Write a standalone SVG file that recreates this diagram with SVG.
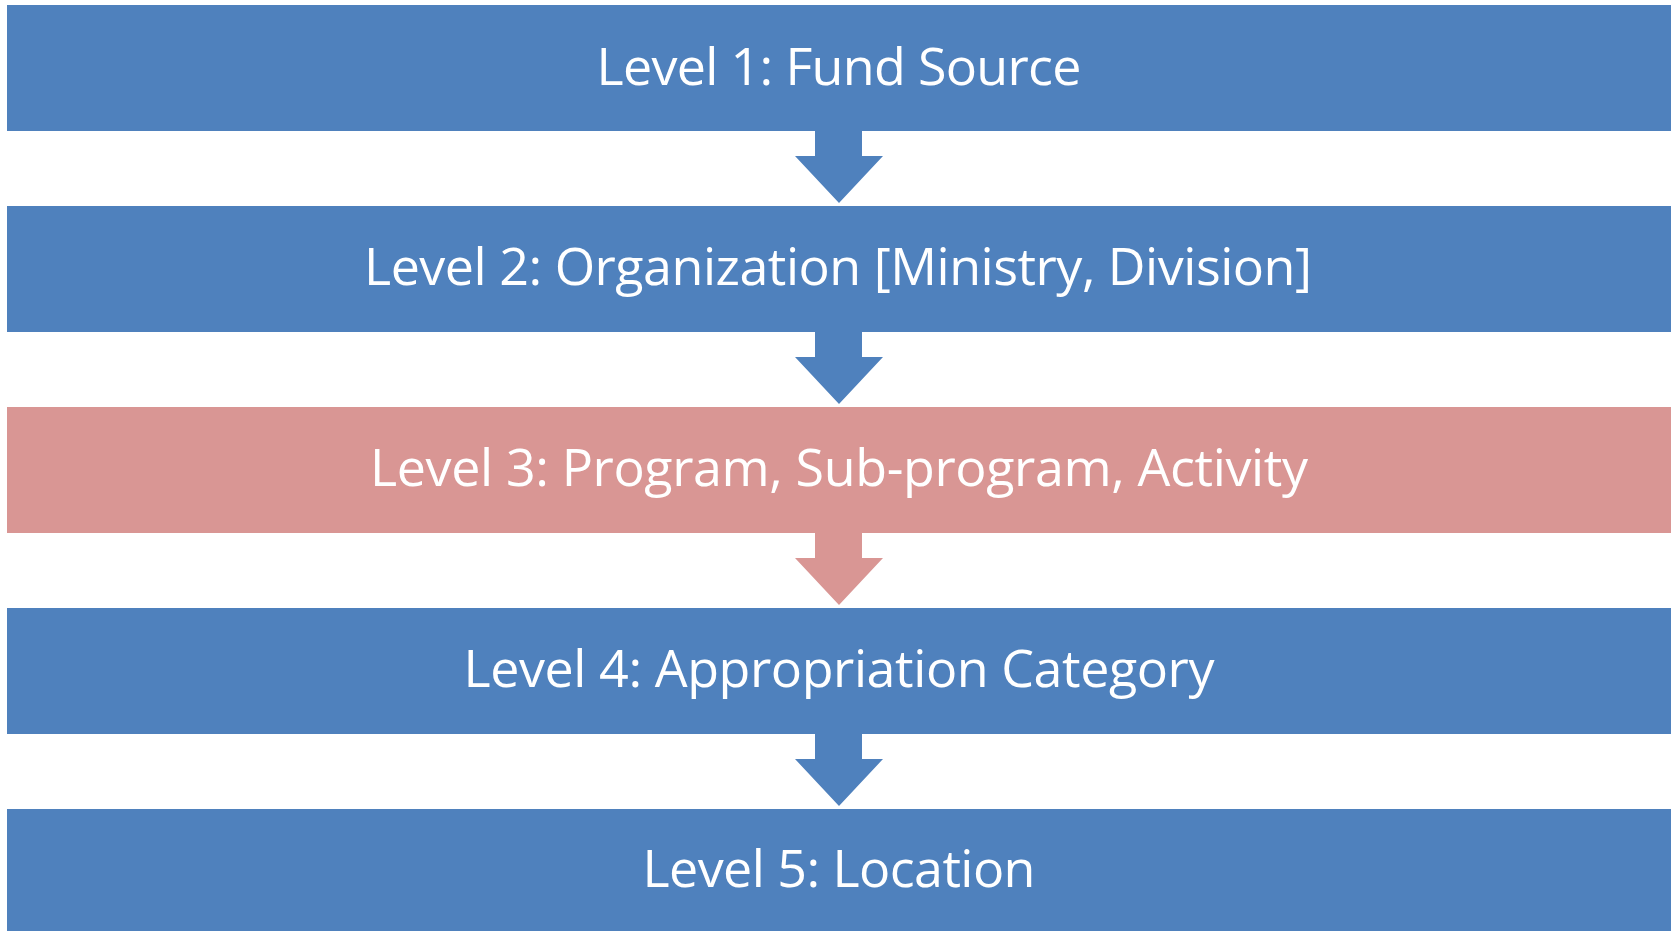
<svg xmlns="http://www.w3.org/2000/svg" width="1675" height="931" viewBox="0 0 1675 931">
  <defs>
    <style>
      .blue { fill: #4f81bd; }
      .pink { fill: #d99694; }
      .label { font-family: "Open Sans", "Liberation Sans", sans-serif; font-size: 52px; fill: #ffffff; text-anchor: middle; }
    </style>
    <!-- downward block arrow, origin at the bottom edge of the upper bar -->
    <path id="down" d="M -24 0 L 23 0 L 23 25 L 44 25 L 0 72 L -44 25 L -24 25 Z"/>
  </defs>

  <rect width="1675" height="931" fill="#ffffff"/>

  <g id="connectors">
    <use href="#down" class="blue" x="839" y="131"/>
    <use href="#down" class="blue" x="839" y="332"/>
    <use href="#down" class="pink" x="839" y="533"/>
    <use href="#down" class="blue" x="839" y="734"/>
  </g>

  <g id="level1">
    <rect class="blue" x="7" y="5" width="1664" height="126"/>
    <text class="label" x="839" y="85" textLength="485">Level 1: Fund Source</text>
  </g>
  <g id="level2">
    <rect class="blue" x="7" y="206" width="1664" height="126"/>
    <text class="label" x="838" y="285" textLength="948">Level 2: Organization [Ministry, Division]</text>
  </g>
  <g id="level3">
    <rect class="pink" x="7" y="407" width="1664" height="126"/>
    <text class="label" x="839" y="486" textLength="938">Level 3: Program, Sub-program, Activity</text>
  </g>
  <g id="level4">
    <rect class="blue" x="7" y="608" width="1664" height="126"/>
    <text class="label" x="839" y="687" textLength="751">Level 4: Appropriation Category</text>
  </g>
  <g id="level5">
    <rect class="blue" x="7" y="809" width="1664" height="126"/>
    <text class="label" x="839" y="887" textLength="393">Level 5: Location</text>
  </g>
</svg>
